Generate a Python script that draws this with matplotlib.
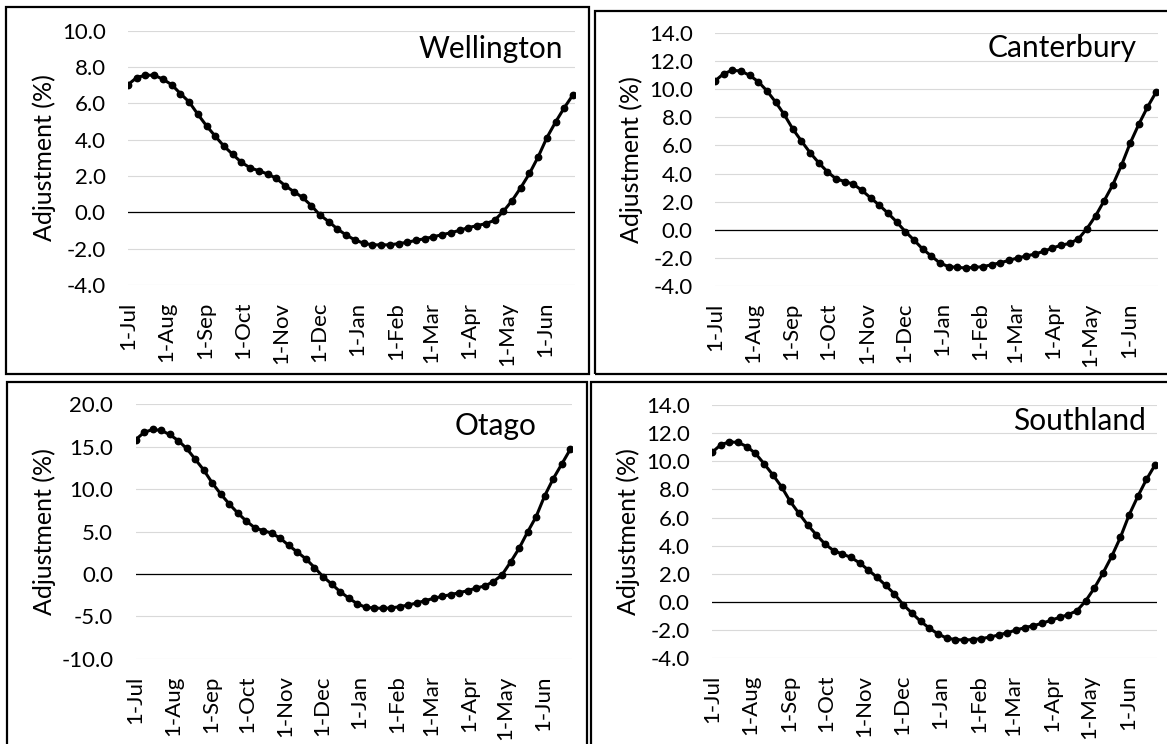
import matplotlib
matplotlib.use("Agg")
import matplotlib.pyplot as plt
from matplotlib.patches import Rectangle
import numpy as np

plt.rcParams['font.family'] = ['Lato', 'DejaVu Sans']

# dias desde el 1 de julio, un punto por semana
dias = np.arange(52) * 7

meses = ['1-Jul', '1-Aug', '1-Sep', '1-Oct', '1-Nov', '1-Dec',
         '1-Jan', '1-Feb', '1-Mar', '1-Apr', '1-May', '1-Jun']
dias_meses = [0, 31, 62, 92, 123, 153, 184, 215, 243, 274, 304, 335]

wellington = [7.03, 7.42, 7.55, 7.55, 7.33, 7.03, 6.54, 6.08, 5.40, 4.76,
              4.19, 3.64, 3.19, 2.75, 2.45, 2.29, 2.11, 1.87, 1.47, 1.14,
              0.82, 0.37, -0.15, -0.51, -0.92, -1.25, -1.52, -1.70, -1.79, -1.79,
              -1.79, -1.72, -1.65, -1.54, -1.45, -1.34, -1.23, -1.12, -0.99, -0.84,
              -0.73, -0.62, -0.44, 0.05, 0.64, 1.36, 2.14, 3.06, 4.12, 4.98,
              5.77, 6.48]

canterbury = [10.60, 11.12, 11.36, 11.31, 11.00, 10.55, 9.90, 9.10, 8.21, 7.17,
              6.31, 5.48, 4.76, 4.12, 3.62, 3.43, 3.24, 2.79, 2.26, 1.74,
              1.17, 0.55, -0.14, -0.74, -1.38, -1.88, -2.38, -2.64, -2.69, -2.74,
              -2.69, -2.64, -2.50, -2.36, -2.19, -2.02, -1.88, -1.74, -1.55, -1.31,
              -1.12, -0.98, -0.67, 0.07, 0.98, 2.07, 3.21, 4.60, 6.17, 7.52,
              8.74, 9.81]

otago = [15.81, 16.68, 17.03, 16.92, 16.44, 15.73, 14.79, 13.53, 12.26, 10.73,
         9.42, 8.24, 7.18, 6.23, 5.44, 5.09, 4.81, 4.18, 3.35, 2.56,
         1.77, 0.75, -0.32, -1.18, -2.09, -2.84, -3.51, -3.94, -4.02, -4.06,
         -4.02, -3.86, -3.67, -3.43, -3.15, -2.88, -2.64, -2.44, -2.21, -1.97,
         -1.66, -1.42, -0.91, -0.12, 1.38, 3.00, 4.93, 6.74, 9.19, 11.20,
         12.93, 14.67]

southland = [10.63, 11.17, 11.38, 11.34, 11.05, 10.56, 9.82, 9.04, 8.19, 7.15,
             6.30, 5.49, 4.78, 4.12, 3.65, 3.41, 3.17, 2.77, 2.27, 1.75,
             1.18, 0.57, -0.19, -0.78, -1.37, -1.85, -2.27, -2.56, -2.67, -2.70,
             -2.67, -2.60, -2.49, -2.34, -2.18, -1.99, -1.82, -1.68, -1.51, -1.30,
             -1.09, -0.90, -0.62, 0.07, 0.99, 2.06, 3.24, 4.59, 6.18, 7.50,
             8.71, 9.75]

W, H = 1167, 744
fig = plt.figure(figsize=(W / 100, H / 100), dpi=100)

# (nombre, datos, izq, der, arriba, abajo en pixeles, ylim, paso, x titulo, base titulo)
paneles = [
    ('Wellington', wellington, 128, 575, 30.7, 285, (-4, 10), 2, 563, 58),
    ('Canterbury', canterbury, 715, 1158, 33.3, 285.7, (-4, 14), 2, 1137, 57),
    ('Otago', otago, 135.5, 572, 404.3, 658.7, (-10, 20), 5, 536, 435),
    ('Southland', southland, 712, 1157, 405, 658.3, (-4, 14), 2, 1146, 430),
]

for nombre, datos, x0, x1, y0, y1, lim, paso, xt, yt in paneles:
    ax = fig.add_axes([x0 / W, 1 - y1 / H, (x1 - x0) / W, (y1 - y0) / H])
    ax.plot(dias, datos, color='black', lw=2.2, marker='o', markersize=4.6)
    ax.set_xlim(0, 358.5)
    ax.set_ylim(*lim)
    ax.set_yticks(np.arange(lim[0], lim[1] + 0.1, paso))
    ax.set_yticklabels(['%.1f' % v for v in np.arange(lim[0], lim[1] + 0.1, paso)])
    ax.set_xticks(dias_meses)
    ax.set_xticklabels(meses, rotation=90)
    ax.grid(axis='y', color='#d9d9d9', lw=0.8)
    ax.set_axisbelow(True)
    ax.axhline(0, color='black', lw=0.9)
    for s in ax.spines.values():
        s.set_visible(False)
    ax.tick_params(axis='y', length=0, pad=16, labelsize=16)
    ax.tick_params(axis='x', length=0, pad=12, labelsize=16)
    ax.set_ylabel('Adjustment (%)', fontsize=18, labelpad=4)
    fig.text(xt / W, 1 - yt / H, nombre, ha='right', va='baseline', fontsize=21.5)

# marcos de cada grafico
marcos = [(6, 589, 7, 373.5), (595, 1175, 11, 374), (6.5, 587, 382, 755), (591, 1175, 382, 755)]
for a, b, c, d in marcos:
    fig.add_artist(Rectangle((a / W, 1 - d / H), (b - a) / W, (d - c) / H,
                             transform=fig.transFigure, fill=False,
                             edgecolor='black', lw=1.6, clip_on=False))

fig.savefig('out.png', dpi=100)
